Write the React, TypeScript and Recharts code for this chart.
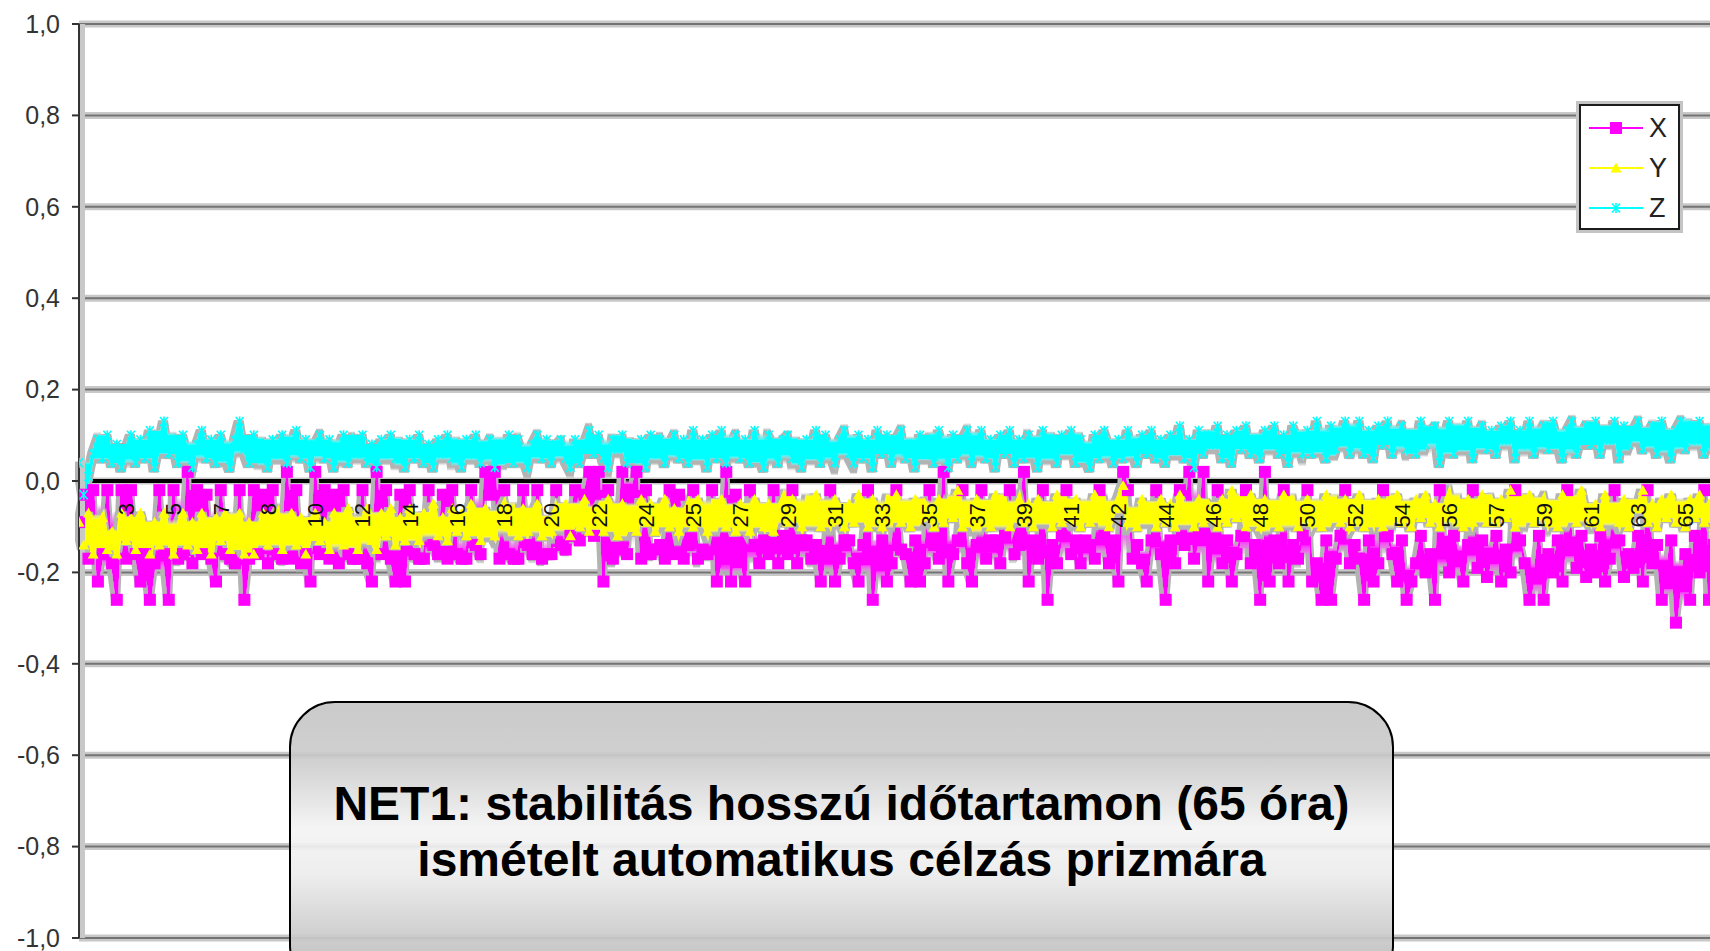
import React from "react";
import { LineChart, Line, XAxis, YAxis, CartesianGrid, ReferenceLine, LabelList, Legend } from "recharts";

const FONT = '"Liberation Sans", Arial, sans-serif';

// readings in hundredths, 10 samples per labelled hour step
const X_SERIES = [
  -9, -3, -17, -2, -22, -16, -2, -18, -26, -2,
  -17, -2, -16, -22, -16, -26, -18, -2, -16, -26,
  -2, -17, -16, 2, -18, -2, -16, -3, -17, -22,
  -2, -16, -17, -18, -2, -26, -17, -2, -16, -3,
  -18, -2, -16, -17, 2, -17, -2, -18, -16, -22,
  2, -16, -2, -17, -3, -18, -2, -16, -17, -17,
  -2, -18, -22, 2, -16, -2, -17, -22, -3, -22,
  -2, -16, -17, -17, -2, -14, -16, -3, -17, -2,
  -16, -17, -17, -2, -14, -16, 2, -3, 2, -17,
  -2, -16, -17, -17, -2, -14, -16, -2, -17, -16,
  -16, -2, -14, -15, -12, -2, -13, -3, 2, -12,
  2, -22, -2, -17, -15, 2, -16, -2, 2, -17,
  -2, -16, -15, -14, -17, -2, -16, -3, -17, -14,
  -2, -17, -15, -16, -2, -22, -17, 2, -22, -3,
  -17, -22, -2, -14, -18, -13, -16, -2, -18, -12,
  -16, -2, -18, -13, -13, -17, -14, -22, -16, -2,
  -22, -17, -13, -13, -18, -22, -14, -2, -26, -16,
  -13, -22, -18, -2, -15, -16, -22, -13, -22, -18,
  -2, -14, -17, 2, -22, -16, -13, -2, -18, -22,
  -14, -2, -17, -13, -13, -18, -12, -2, -16, -14,
  2, -22, -13, -17, -2, -26, -14, -18, -12, -2,
  -16, -13, -18, -13, -14, -17, -2, -12, -18, -13,
  -22, 2, -2, -17, -14, -18, -22, -13, -2, -16,
  -26, -13, -18, -2, -14, 2, -17, -12, 2, -22,
  -14, -2, -18, -13, -22, -16, -12, -2, -18, -14,
  -26, 2, -22, -13, -18, -2, -22, -14, -17, -12,
  -2, -22, -18, -26, -13, -26, -17, -12, -2, -18,
  -14, -17, -26, -13, -22, -18, -2, -12, -16, -22,
  -13, -26, -22, -18, -12, -20, -16, -26, -2, -14,
  -20, -12, -17, -22, -14, -2, -19, -13, -21, -16,
  -12, -22, -15, -20, -2, -13, -18, -26, -21, -12,
  -26, -16, -20, -13, -22, -2, -14, -19, -12, -21,
  -15, -20, -12, -22, -17, -2, -13, -21, -16, -19,
  -12, -22, -2, -18, -14, -26, -20, -13, -31, -22,
  -16, -26, -12, -20, -2, -26, -14, -22, -18, -13,
];

const Y_SERIES = [
  -9, -14, -7, -16, -10, -8, -15, -11, -16, -7,
  -13, -8, -15, -7, -11, -16, -9, -14, -7, -13,
  -16, -10, -7, -14, -9, -15, -7, -12, -16, -8,
  -13, -7, -15, -10, -7, -16, -9, -16, -11, -7,
  -14, -9, -7, -15, -10, -7, -14, -8, -16, -11,
  -7, -13, -9, -15, -7, -12, -14, -6, -11, -15,
  -9, -6, -13, -15, -7, -12, -6, -14, -8, -13,
  -6, -11, -13, -7, -10, -5, -12, -8, -13, -6,
  -11, -7, -12, -5, -9, -13, -6, -10, -12, -7,
  -5, -10, -7, -12, -6, -11, -8, -5, -12, -9,
  -11, -6, -9, -5, -12, -7, -10, -4, -11, -8,
  -6, -11, -4, -9, -12, -5, -10, -7, -11, -4,
  -9, -5, -11, -7, -4, -10, -6, -11, -8, -5,
  -10, -4, -8, -11, -6, -9, -4, -10, -7, -11,
  -5, -9, -11, -4, -8, -10, -5, -11, -7, -4,
  -9, -4, -7, -10, -5, -8, -3, -10, -6, -9,
  -4, -8, -10, -5, -9, -3, -7, -10, -4, -8,
  -10, -5, -8, -3, -9, -6, -10, -4, -8, -5,
  -7, -10, -4, -9, -5, -8, -2, -10, -6, -9,
  -4, -9, -6, -10, -3, -8, -5, -10, -7, -4,
  -9, -5, -10, -4, -8, -6, -10, -3, -9, -5,
  -8, -4, -10, -6, -9, -3, -8, -5, -10, -6,
  -4, -1, -9, -7, -10, -4, -8, -6, -10, -4,
  -9, -5, -10, -3, -8, -6, -10, -4, -9, -5,
  -6, -10, -4, -9, -2, -8, -5, -10, -3, -8,
  -10, -4, -9, -6, -10, -3, -8, -5, -10, -6,
  -4, -9, -6, -10, -3, -8, -5, -9, -4, -10,
  -8, -3, -10, -6, -9, -4, -10, -5, -8, -3,
  -9, -6, -10, -4, -8, -3, -9, -5, -10, -6,
  -3, -8, -5, -10, -4, -9, -6, -3, -9, -5,
  -9, -4, -8, -2, -10, -5, -8, -3, -9, -6,
  -4, -9, -6, -10, -3, -8, -5, -9, -2, -7,
  -9, -5, -10, -3, -8, -6, -9, -4, -10, -5,
  -6, -2, -9, -5, -10, -4, -8, -3, -9, -6,
  -10, -4, -8, -3, -9, -5, -10, -2, -8, -5,
];

const Z_SERIES = [
  4, -3, 1, 6, 9, 5, 10, 4, 8, 3,
  7, 10, 4, 9, 5, 11, 3, 8, 13, 6,
  9, 4, 10, 6, 3, 8, 11, 5, 9, 4,
  10, 6, 3, 9, 13, 7, 4, 10, 5, 8,
  3, 9, 6, 10, 4, 8, 11, 5, 9, 3,
  8, 10, 5, 9, 3, 7, 10, 4, 9, 6,
  10, 4, 8, 3, 9, 6, 10, 5, 8, 3,
  9, 5, 10, 4, 8, 3, 9, 6, 10, 5,
  8, 3, 9, 6, 10, 4, 7, 9, 3, 8,
  5, 10, 4, 9, 6, 3, 8, 10, 5, 9,
  4, 8, 9, 5, 3, 9, 4, 8, 11, 6,
  10, 5, 3, 9, 7, 10, 4, 8, 5, 9,
  3, 10, 6, 9, 4, 8, 10, 5, 9, 4,
  11, 6, 9, 3, 10, 5, 11, 4, 8, 10,
  5, 9, 4, 11, 6, 3, 10, 8, 4, 9,
  10, 5, 8, 3, 9, 6, 11, 4, 10, 7,
  4, 9, 11, 6, 4, 10, 5, 9, 3, 11,
  6, 10, 4, 9, 11, 5, 8, 3, 10, 6,
  9, 4, 11, 7, 3, 10, 5, 9, 11, 4,
  8, 11, 5, 9, 3, 10, 6, 11, 4, 9,
  5, 10, 8, 3, 11, 6, 9, 4, 10, 7,
  11, 4, 9, 6, 3, 10, 5, 11, 8, 4,
  9, 5, 11, 7, 4, 10, 6, 11, 5, 9,
  4, 10, 7, 12, 5, 9, 3, 11, 6, 10,
  8, 12, 5, 10, 4, 11, 7, 12, 6, 9,
  5, 11, 8, 12, 6, 10, 4, 12, 9, 6,
  11, 6, 13, 8, 5, 12, 7, 10, 13, 6,
  9, 13, 6, 11, 5, 12, 8, 13, 6, 10,
  12, 7, 10, 6, 13, 8, 11, 12, 4, 9,
  13, 6, 11, 8, 13, 5, 10, 12, 7, 11,
  6, 12, 9, 13, 5, 11, 8, 13, 6, 10,
  12, 7, 13, 9, 5, 11, 13, 6, 10, 12,
  8, 13, 6, 11, 9, 13, 5, 12, 8, 11,
  13, 7, 10, 12, 6, 13, 9, 5, 11, 13,
  7, 12, 9, 13, 6, 11, 8, 12, 10, 7,
];

// hour labels, one every SAMPLES_PER_LABEL samples (starting at sample 10)
const HOUR_LABELS = [
  "3", "5", "7", "8", "10", "12", "14", "16", "18", "20", "22", "24", "25", "27", "29", "31", "33",
  "35", "37", "39", "41", "42", "44", "46", "48", "50", "52", "54", "56", "57", "59", "61", "63", "65",
];
const SAMPLES_PER_LABEL = 10;
const Y_TICKS = [-1, -0.8, -0.6, -0.4, -0.2, 0, 0.2, 0.4, 0.6, 0.8, 1];

const data = X_SERIES.map((v, i) => {
  const j = i / SAMPLES_PER_LABEL - 1;
  const hour = Number.isInteger(j) && j >= 0 && j < HOUR_LABELS.length ? HOUR_LABELS[j] : null;
  return { i, X: v / 100, Y: Y_SERIES[i] / 100, Z: Z_SERIES[i] / 100, hour, hourAnchor: hour ? 0 : null };
});

const MAGENTA = "#ff00ff";
const YELLOW = "#ffff00";
const CYAN = "#00ffff";

function marker(kind: string, cx: number, cy: number, key?: string) {
  if (kind === "X") return <rect key={key} x={cx - 6} y={cy - 6} width={12} height={12} fill={MAGENTA} />;
  if (kind === "Y") return <path key={key} d={`M${cx},${cy - 5.5}L${cx + 5.5},${cy + 4.5}L${cx - 5.5},${cy + 4.5}Z`} fill={YELLOW} />;
  return (
    <path key={key} d={`M${cx - 4},${cy - 4.5}L${cx + 4},${cy + 4.5}M${cx - 4},${cy + 4.5}L${cx + 4},${cy - 4.5}M${cx},${cy - 5}L${cx},${cy + 5}`} stroke={CYAN} strokeWidth={1.6} fill="none" />
  );
}

const dotFor = (kind: string) => (p: any) => {
  if (p.cx == null || p.cy == null) return <g key={`${kind}${p.index}`} />;
  return marker(kind, p.cx, p.cy, `${kind}${p.index}`);
};

const fmtTick = (v: number) => v.toFixed(1).replace(".", ",");

// closes the small gaps of a dense series, then puts a grey shadow under it
const Halo = ({ id, close }: { id: string; close: number }) => (
  <filter id={id} x="-2%" y="-40%" width="104%" height="180%">
    <feMorphology in="SourceGraphic" operator="dilate" radius={close} result="a" />
    <feMorphology in="a" operator="erode" radius={close} result="c" />
    <feMorphology in="c" operator="dilate" radius="3" result="d" />
    <feOffset in="d" dx="-1" dy="1.5" result="o" />
    <feFlood floodColor="#b3b3b3" />
    <feComposite in2="o" operator="in" result="s" />
    <feMerge>
      <feMergeNode in="s" />
      <feMergeNode in="c" />
    </feMerge>
  </filter>
);

const LegendBox = (props: any) => {
  const items = (props.payload || []).filter((it: any) => it.dataKey !== "hourAnchor");
  return (
    <div style={{ width: 97, border: "2px solid #1c1c1c", background: "#fff", boxShadow: "0 0 0 3px #c4c4c4", paddingTop: 2, fontFamily: FONT }}>
      {items.map((it: any) => (
        <div key={it.value} style={{ display: "flex", alignItems: "center", height: 40 }}>
          <svg width={62} height={40} style={{ display: "block" }}>
            <line x1={8} x2={62} y1={20} y2={20} stroke={it.color} strokeWidth={2} />
            {marker(String(it.dataKey), 35, 20)}
          </svg>
          <span style={{ fontSize: 27, color: "#222", marginLeft: 6, lineHeight: "40px" }}>{it.value}</span>
        </div>
      ))}
    </div>
  );
};

const renderHour = (p: any) => {
  if (p.value == null || p.x == null || p.y == null) return null;
  return (
    <text
      key={`h${p.index}`}
      x={p.x}
      y={p.y}
      dx={-22}
      dy="0.36em"
      transform={`rotate(-90 ${p.x} ${p.y})`}
      textAnchor="end"
      fontSize={22}
      fontFamily={FONT}
      fill="#111"
    >
      {p.value}
    </text>
  );
};

export default function App() {
  return (
    <div style={{ position: "absolute", left: 0, top: 0, width: 1710, height: 951, overflow: "hidden", background: "#fff" }}>
      <style>{`
        .halo-x { filter: url(#haloX); }
        .halo-y { filter: url(#haloY); }
        .halo-z { filter: url(#haloZ); }
        .recharts-yAxis .recharts-cartesian-axis-line { filter: drop-shadow(2px 0 0 #c8c8c8) drop-shadow(3px 0 0 #c8c8c8); }
      `}</style>
      <svg width={0} height={0} style={{ position: "absolute" }}>
        <defs>
          <Halo id="haloX" close={4} />
          <Halo id="haloY" close={4} />
          <Halo id="haloZ" close={3.5} />
        </defs>
      </svg>
      <LineChart width={1761} height={951} data={data} margin={{ top: 24, right: 0, bottom: 13, left: 0 }}>
        <CartesianGrid vertical={false} stroke="#c8c8c8" strokeWidth={7} />
        <CartesianGrid vertical={false} stroke="#747474" strokeWidth={2} />
        <XAxis dataKey="i" type="number" domain={[0, 356]} allowDataOverflow hide />
        <YAxis
          type="number"
          domain={[-1, 1]}
          ticks={Y_TICKS}
          interval={0}
          tickFormatter={fmtTick}
          width={79}
          tickSize={7}
          tickMargin={12}
          axisLine={{ stroke: "#333", strokeWidth: 2 }}
          tickLine={{ stroke: "#333", strokeWidth: 2 }}
          tick={{ fontSize: 25, fill: "#333", fontFamily: FONT }}
        />
        <ReferenceLine y={0} stroke="#000" strokeWidth={4} />
        <Line className="halo-x" dataKey="X" name="X" stroke={MAGENTA} strokeWidth={2.5} dot={dotFor("X")} activeDot={false} isAnimationActive={false} />
        <Line className="halo-y" dataKey="Y" name="Y" stroke={YELLOW} strokeWidth={5.5} dot={dotFor("Y")} activeDot={false} isAnimationActive={false} />
        <Line className="halo-z" dataKey="Z" name="Z" stroke={CYAN} strokeWidth={4} dot={dotFor("Z")} activeDot={false} isAnimationActive={false} />
        <Line dataKey="hourAnchor" stroke="none" dot={false} activeDot={false} legendType="none" isAnimationActive={false}>
          <LabelList dataKey="hour" content={renderHour} />
        </Line>
        <Legend
          layout="vertical"
          align="center"
          verticalAlign="middle"
          content={LegendBox}
          wrapperStyle={{ left: 1579, top: 104, width: 101 }}
        />
      </LineChart>
      <div
        style={{
          position: "absolute",
          left: 289,
          top: 701,
          width: 1105,
          height: 290,
          boxSizing: "border-box",
          border: "2px solid #000",
          borderRadius: 46,
          background:
            "linear-gradient(to bottom, rgba(198,198,198,0.92) 0%, rgba(204,204,204,0.92) 20%, rgba(244,244,244,0.92) 44%, rgba(236,236,236,0.92) 60%, rgba(190,190,190,0.92) 90%)",
          fontFamily: FONT,
          fontWeight: "bold",
          fontSize: 48,
          lineHeight: "56px",
          color: "#000",
          textAlign: "center",
          paddingTop: 73,
        }}
      >
        <div>NET1: stabilitás hosszú időtartamon (65 óra)</div>
        <div>ismételt automatikus célzás prizmára</div>
      </div>
    </div>
  );
}
